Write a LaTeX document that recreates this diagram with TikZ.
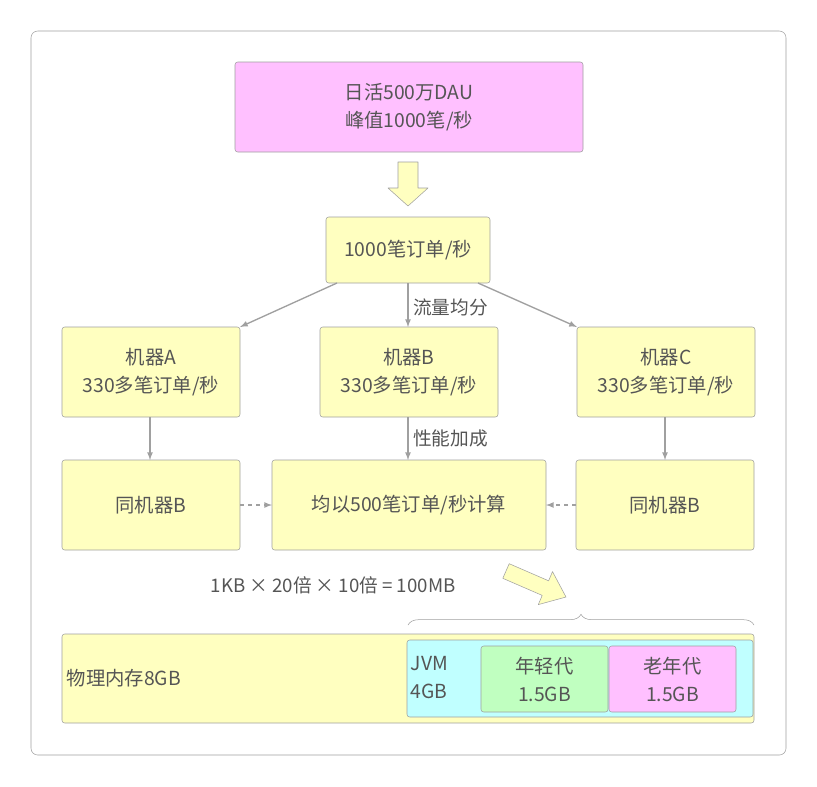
\documentclass[tikz,border=0pt]{standalone}
\usepackage{fontspec}
\setmainfont{Noto Sans CJK SC}
\usetikzlibrary{decorations.pathreplacing}
\definecolor{boxy}{HTML}{FFFFC0}
\definecolor{boxp}{HTML}{FFC0FF}
\definecolor{boxg}{HTML}{C0FFC0}
\definecolor{boxc}{HTML}{C0FFFF}
\definecolor{txt}{HTML}{555555}
\definecolor{ln}{HTML}{A0A0A0}
\tikzset{
  blk/.style={draw=ln, rounded corners=2pt, text=txt, align=center, font=\fontsize{14.5}{21}\selectfont},
  flow/.style={draw=ln, line width=1pt, -latex},
  fat/.style={draw=ln, fill=boxy, line join=round},
  lbl/.style={text=txt, font=\fontsize{14}{17}\selectfont}
}
\begin{document}
\begin{tikzpicture}[x=0.75pt, y=-0.75pt]
\useasboundingbox (0,0) rectangle (817,786);
\draw[ln, rounded corners=5pt, fill=white] (31,31) rectangle (786,755);
\draw[blk, fill=boxp] (235,62) rectangle (583,152) node[midway] (top) {日活500万DAU\\峰值1000笔/秒};
% block arrows
\draw[fat] (398,162) -- (418,162) -- (418,188) -- (428,188) -- (408,206) -- (388,188) -- (398,188) -- cycle;
\draw[fat] (509.2,563.7) -- (548.6,580.8) -- (552.5,571.6) -- (566,597) -- (538.3,604.6) -- (542.2,595.4) -- (502.8,578.3) -- cycle;
\draw[blk, fill=boxy] (326,217) rectangle (490,283) node[midway] (total) {1000笔订单/秒};
\draw[blk, fill=boxy] (62,327) rectangle (240,417) node[midway] (ma) {机器A\\330多笔订单/秒};
\draw[blk, fill=boxy] (320,327) rectangle (498,417) node[midway] (mb) {机器B\\330多笔订单/秒};
\draw[blk, fill=boxy] (577,327) rectangle (755,417) node[midway] (mc) {机器C\\330多笔订单/秒};
\draw[blk, fill=boxy] (62,460) rectangle (240,550) node[midway] (sa) {同机器B};
\draw[blk, fill=boxy] (272,460) rectangle (546,550) node[midway] (sb) {均以500笔订单/秒计算};
\draw[blk, fill=boxy] (576,460) rectangle (754,550) node[midway] (sc) {同机器B};
\coordinate (t1) at (337,283); \coordinate (t2) at (408,283); \coordinate (t3) at (478,283);
\draw[flow] (t1) -- (240,327);
\draw[flow] (t2) -- (408,327) node[pos=0.55, right, lbl] {流量均分};
\draw[flow] (t3) -- (577,327);
\draw[flow] (150,417) -- (150,460);
\draw[flow] (408,417) -- (408,460) node[pos=0.5, right, lbl] {性能加成};
\draw[flow] (665,417) -- (665,460);
\draw[flow, dashed] (240,505) -- (272,505);
\draw[flow, dashed] (576,505) -- (546,505);
\node[lbl, anchor=west] (calc) at (206,585) {1KB × 20倍 × 10倍 = 100MB};
\draw[blk, fill=boxy] (62,634) rectangle (754,723);
\node[blk, draw=none, anchor=west] (mem) at (62,678) {物理内存8GB};
\draw[blk, fill=boxc] (407,640) rectangle (753,717);
\node[blk, draw=none, align=left, anchor=west] (jvm) at (406,678) {JVM\\4GB};
\draw[blk, fill=boxg] (481,646) rectangle (608,712) node[midway] (young) {年轻代\\1.5GB};
\draw[blk, fill=boxp] (609,646) rectangle (736,712) node[midway] (old) {老年代\\1.5GB};
\draw[ln, decorate, decoration={brace, amplitude=8pt}] (408,625) -- (754,625);
\end{tikzpicture}
\end{document}
